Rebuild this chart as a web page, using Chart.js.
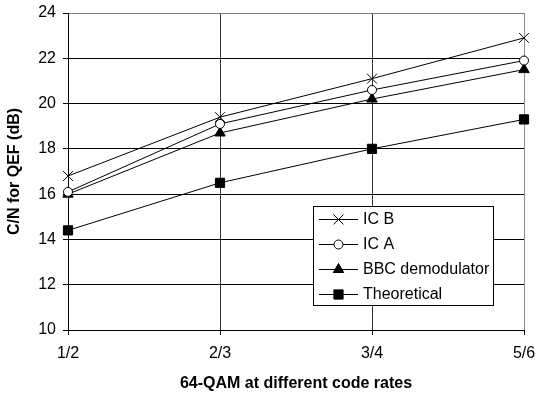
<!DOCTYPE html>
<html>
<head>
<meta charset="utf-8">
<script src="https://cdn.jsdelivr.net/npm/chart.js@4/dist/chart.umd.min.js"></script>
<style>
html,body{margin:0;padding:0;background:#fff;}
#wrap{width:536px;height:394px;position:relative;}
</style>
</head>
<body>
<div id="wrap"><canvas id="c" width="536" height="394"></canvas></div>
<script>
const categories = ["1/2", "2/3", "3/4", "5/6"];
const icB = [16.8, 19.4, 21.1, 22.9];
const icA = [16.1, 19.1, 20.6, 21.9];
const bbc = [16.0, 18.7, 20.2, 21.5];
const theoretical = [14.4, 16.5, 18.0, 19.3];
const seriesNames = ["IC B", "IC A", "BBC demodulator", "Theoretical"];
const yTicks = [10, 12, 14, 16, 18, 20, 22, 24];

const FONT = "'Liberation Sans', Arial, sans-serif";

const legendPlugin = {
  id: 'boxLegend',
  afterDatasetsDraw(chart) {
    const ctx = chart.ctx;
    const x0 = 313, y0 = 206, w = 180, h = 99;
    ctx.save();
    ctx.fillStyle = '#fff';
    ctx.fillRect(x0, y0, w, h);
    ctx.strokeStyle = '#000';
    ctx.lineWidth = 1;
    ctx.strokeRect(x0 + 0.5, y0 + 0.5, w, h);
    chart.data.datasets.forEach((ds, i) => {
      const y = 219.5 + i * 25;
      ctx.strokeStyle = '#000';
      ctx.lineWidth = 1;
      ctx.beginPath();
      ctx.moveTo(319, y);
      ctx.lineTo(358, y);
      ctx.stroke();
      ctx.fillStyle = ds.pointBackgroundColor;
      ctx.strokeStyle = ds.pointBorderColor;
      ctx.lineWidth = 1;
      Chart.helpers.drawPoint(ctx, {pointStyle: ds.pointStyle, radius: ds.pointRadius, borderWidth: 1, rotation: 0}, 338.5, y);
      ctx.fillStyle = '#000';
      ctx.font = '16px ' + FONT;
      ctx.textBaseline = 'middle';
      ctx.textAlign = 'left';
      ctx.fillText(ds.label, 363, y + 0.5);
    });
    ctx.restore();
  }
};

function mk(label, data, style, radius, bg) {
  return {
    label: label, data: data,
    borderColor: '#000', borderWidth: 1, tension: 0,
    pointStyle: style, pointRadius: radius, pointHoverRadius: radius,
    pointBackgroundColor: bg, pointBorderColor: '#000', pointBorderWidth: 1,
    fill: false
  };
}

new Chart(document.getElementById('c'), {
  type: 'line',
  data: {
    labels: categories,
    datasets: [
      mk(seriesNames[0], icB, 'crossRot', 7, '#000'),
      mk(seriesNames[1], icA, 'circle', 4.5, '#fff'),
      mk(seriesNames[2], bbc, 'triangle', 6, '#000'),
      mk(seriesNames[3], theoretical, 'rect', 6.5, '#000')
    ]
  },
  options: {
    responsive: false,
    animation: false,
    devicePixelRatio: 1,
    layout: { padding: { top: 13, right: 12, bottom: 0, left: 0 } },
    plugins: { legend: { display: false }, tooltip: { enabled: false } },
    scales: {
      x: {
        offset: false,
        afterFit(s) { s.height = 64; s.paddingLeft = 0; s.paddingRight = 0; },
        grid: { color: (c) => c.index === categories.length - 1 ? '#8c8c8c' : '#333', lineWidth: 1, tickLength: 5, tickColor: '#000', drawTicks: true },
        border: { display: true, color: '#000', width: 1 },
        ticks: { color: '#000', font: { family: FONT, size: 16 }, padding: 9, maxRotation: 0, autoSkip: false },
        title: { display: true, text: '64-QAM at different code rates', color: '#000', font: { family: FONT, size: 16, weight: 'bold' }, padding: { top: 0, bottom: 1 } }
      },
      y: {
        min: yTicks[0], max: yTicks[yTicks.length - 1],
        afterFit(s) { s.width = 68; s.paddingTop = 0; s.paddingBottom = 0; },
        afterBuildTicks(s) { s.ticks = yTicks.map(v => ({ value: v })); },
        grid: { color: (c) => c.tick && c.tick.value === 24 ? '#7a7a7a' : '#000', lineWidth: 1, tickLength: 5, tickColor: '#000' },
        border: { display: true, color: '#000', width: 1 },
        ticks: { color: '#000', font: { family: FONT, size: 16 }, padding: 7 },
        title: { display: true, text: 'C/N for QEF (dB)', color: '#000', font: { family: FONT, size: 16, weight: 'bold' }, padding: { top: 5, bottom: 0 } }
      }
    }
  },
  plugins: [legendPlugin]
});
</script>
</body>
</html>
